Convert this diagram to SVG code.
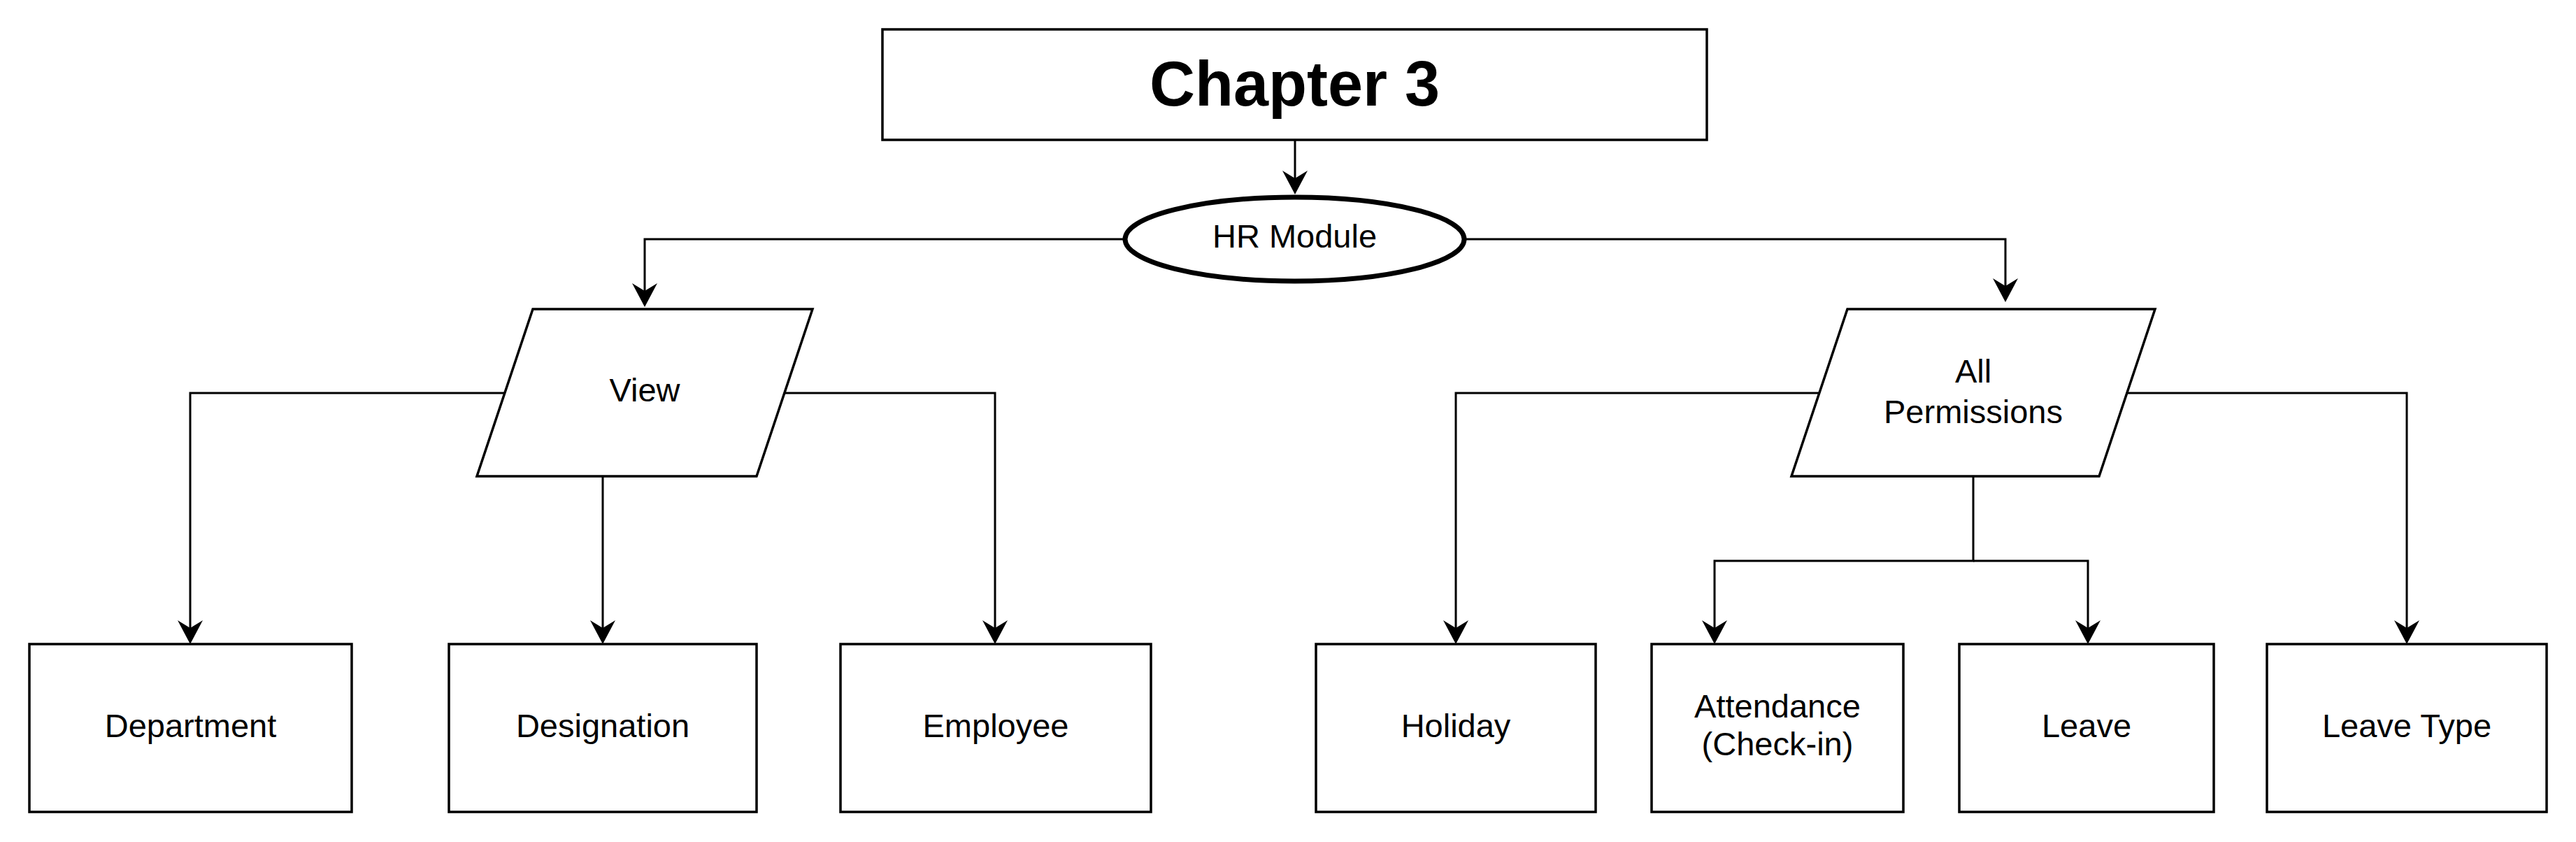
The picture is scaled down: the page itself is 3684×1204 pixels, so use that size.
<svg xmlns="http://www.w3.org/2000/svg" width="3684" height="1204" viewBox="0 0 3684 1204">
<style>
.box{fill:#fff;stroke:#000;stroke-width:3.5}
.ell{fill:#fff;stroke:#000;stroke-width:7}
.edge{fill:none;stroke:#000;stroke-width:3}
.lbl{font-family:"Liberation Sans",Arial,Helvetica,sans-serif;font-size:47px;fill:#000;text-anchor:middle}
.title{font-family:"Liberation Sans",Arial,Helvetica,sans-serif;font-size:90px;font-weight:bold;fill:#000;text-anchor:middle}
</style>
<defs>
<marker id="arr" viewBox="0 0 34 36" refX="11" refY="18" markerWidth="34" markerHeight="36" markerUnits="userSpaceOnUse" orient="auto">
<path d="M0,0 L34,18 L0,36 L11,18 Z" fill="#000"/>
</marker>
</defs>
<rect x="0" y="0" width="3684" height="1204" fill="#fff"/>
<g id="connectors">
<path class="edge" d="M1852,200 V255" marker-end="url(#arr)"/>
<path class="edge" d="M1609,342 H922 V416" marker-end="url(#arr)"/>
<path class="edge" d="M2094,342 H2868 V409" marker-end="url(#arr)"/>
<path class="edge" d="M722,562 H272 V898" marker-end="url(#arr)"/>
<path class="edge" d="M862,681 V898" marker-end="url(#arr)"/>
<path class="edge" d="M1122,562 H1423 V898" marker-end="url(#arr)"/>
<path class="edge" d="M2602,562 H2082 V898" marker-end="url(#arr)"/>
<path class="edge" d="M2822,681 V802 H2452 V898" marker-end="url(#arr)"/>
<path class="edge" d="M2822,802 H2986 V898" marker-end="url(#arr)"/>
<path class="edge" d="M3042,562 H3442 V898" marker-end="url(#arr)"/>
</g>
<g id="chapter3">
<rect class="box" x="1262" y="42" width="1179" height="158"/>
<text class="title" x="1851.5" y="151">Chapter 3</text>
</g>
<g id="hr-module">
<ellipse class="ell" cx="1851.5" cy="342" rx="242.5" ry="60"/>
<text class="lbl" x="1851.5" y="354">HR Module</text>
</g>
<g id="view">
<polygon class="box" points="762,442 1162,442 1082,681 682,681"/>
<text class="lbl" x="922" y="574">View</text>
</g>
<g id="all-permissions">
<polygon class="box" points="2642,442 3082,442 3002,681 2562,681"/>
<text class="lbl" x="2822" y="547">All</text>
<text class="lbl" x="2822" y="605">Permissions</text>
</g>
<g id="department">
<rect class="box" x="42" y="921" width="461" height="240"/>
<text class="lbl" x="272.5" y="1054">Department</text>
</g>
<g id="designation">
<rect class="box" x="642" y="921" width="440" height="240"/>
<text class="lbl" x="862" y="1054">Designation</text>
</g>
<g id="employee">
<rect class="box" x="1202" y="921" width="444" height="240"/>
<text class="lbl" x="1424" y="1054">Employee</text>
</g>
<g id="holiday">
<rect class="box" x="1882" y="921" width="400" height="240"/>
<text class="lbl" x="2082" y="1054">Holiday</text>
</g>
<g id="attendance">
<rect class="box" x="2362" y="921" width="360" height="240"/>
<text class="lbl" x="2542" y="1026">Attendance</text>
<text class="lbl" x="2542" y="1080">(Check-in)</text>
</g>
<g id="leave">
<rect class="box" x="2802" y="921" width="364" height="240"/>
<text class="lbl" x="2984" y="1054">Leave</text>
</g>
<g id="leave-type">
<rect class="box" x="3242" y="921" width="400" height="240"/>
<text class="lbl" x="3442" y="1054">Leave Type</text>
</g>
</svg>
